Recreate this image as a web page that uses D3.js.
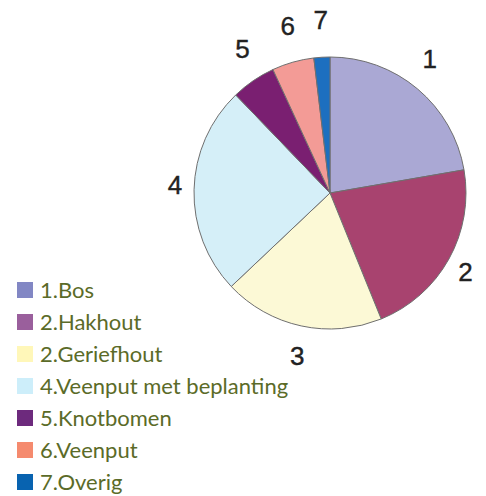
<!DOCTYPE html>
<html>
<head>
<meta charset="utf-8">
<script src="https://cdn.jsdelivr.net/npm/d3@7"></script>
<style>
    body { margin: 0; background: #fff; }
</style>
</head>
<body>
<div id="chart"></div>
<script>
// Data (share of each category, in %)
const sliceLabels = ["1", "2", "3", "4", "5", "6", "7"];
const values = [22.3, 21.6, 19.1, 24.9, 5.3, 5.0, 1.9];
const legendNames = ["1.Bos", "2.Hakhout", "2.Geriefhout", "4.Veenput met beplanting", "5.Knotbomen", "6.Veenput", "7.Overig"];
const sliceColors = ["#aaa8d4", "#a8436f", "#fcf9d6", "#d5eff8", "#7a1f71", "#f39b96", "#1d6fbf"];
const legendColors = ["#8287c4", "#9a5f9c", "#fff7b9", "#cdeefa", "#6d2a7d", "#f58a6e", "#0863b0"];

const width = 486, height = 496;

const svg = d3.select("#chart")
    .append("svg")
    .attr("width", width)
    .attr("height", height)
    .attr("viewBox", [0, 0, width, height]);

// Pie
const cx = 330, cy = 193, radius = 136;

const pie = d3.pie().sort(null).value(d => d);
const arcs = pie(values);

const arc = d3.arc().innerRadius(0).outerRadius(radius);

// labels sit on a slightly oval ring around the pie
const labelPos = d => {
    const a = (d.startAngle + d.endAngle) / 2;
    return [155 * Math.sin(a), -170 * Math.cos(a) - 4];
};

const g = svg.append("g")
    .attr("transform", `translate(${cx},${cy})`);

g.selectAll("path")
    .data(arcs)
    .join("path")
    .attr("d", arc)
    .attr("fill", (d, i) => sliceColors[i])
    .attr("stroke", "#6f6f6f")
    .attr("stroke-width", 1);

g.selectAll("text")
    .data(arcs)
    .join("text")
    .attr("transform", d => `translate(${labelPos(d)})`)
    .attr("text-anchor", "middle")
    .attr("dy", "0.36em")
    .attr("font-family", "Liberation Sans, Arial, sans-serif")
    .attr("font-size", 26)
    .attr("fill", "#222")
    .attr("stroke", "#222")
    .attr("stroke-width", 0.4)
    .text((d, i) => sliceLabels[i]);

// Legend
const legend = svg.append("g")
    .attr("transform", "translate(17,282)")
    .selectAll("g")
    .data(legendNames)
    .join("g")
    .attr("transform", (d, i) => `translate(0,${i * 32})`);

legend.append("rect")
    .attr("width", 16)
    .attr("height", 16)
    .attr("fill", (d, i) => legendColors[i]);

legend.append("text")
    .attr("x", 23)
    .attr("y", 8)
    .attr("dy", "0.36em")
    .attr("font-family", "Lato, sans-serif")
    .attr("font-size", 22)
    .attr("fill", "#5b6b28")
    .text(d => d);
</script>
</body>
</html>
